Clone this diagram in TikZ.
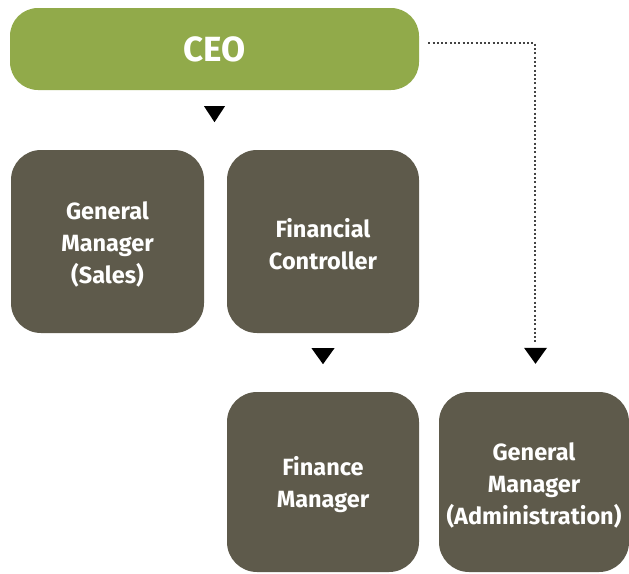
\documentclass[tikz,border=0pt]{standalone}
\usepackage{fontspec}
\setmainfont{Fira Sans}
\usetikzlibrary{calc}
\definecolor{ceogreen}{HTML}{91AA4A}
\definecolor{boxdark}{HTML}{5E5A4B}
\definecolor{dotgray}{HTML}{444444}
\tikzset{
  ceobox/.style={fill=ceogreen, draw=none, rounded corners=28pt, minimum width=409pt, minimum height=82pt, text=white, font=\bfseries\fontsize{35}{40}\selectfont, inner sep=0pt},
  mgrbox/.style={fill=boxdark, draw=none, rounded corners=30pt, inner sep=0pt},
  mgrtext/.style={text=white, align=center, font=\bfseries\fontsize{23.5}{32}\selectfont, inner sep=0pt},
  tip/.style={fill=black},
  dotline/.style={draw=dotgray, line width=2pt, dash pattern=on 2pt off 2.3pt},
}
\begin{document}
\begin{tikzpicture}[x=1pt,y=-1pt]
\useasboundingbox (0,0) rectangle (629,573);
\node[ceobox] (ceo) at (214.5,49) {CEO};
\node[mgrbox, minimum width=193pt, minimum height=183pt] (gms) at (107.5,241.5) {};
\node[mgrbox, minimum width=192pt, minimum height=183pt] (fc) at (323,241.5) {};
\node[mgrbox, minimum width=192pt, minimum height=180pt] (fm) at (323,482) {};
\node[mgrbox, minimum width=190pt, minimum height=180pt] (gma) at (534,482) {};
\node[mgrtext] (gmst) at ($(gms.center)+(0,3)$) {General\\Manager\\(Sales)};
\node[mgrtext] (fct) at ($(fc.center)+(0,3)$) {Financial\\Controller};
\node[mgrtext] (fmt) at ($(fm.center)+(0,3)$) {Finance\\Manager};
\node[mgrtext] (gmat) at ($(gma.center)+(0,3.5)$) {General\\Manager\\(Administration)};
% solid arrow tips
\coordinate (t1) at ($(ceo.south)+(0,16)$);
\fill[tip] ($(t1)+(-10.5,0)$) -- ($(t1)+(10.5,0)$) -- ($(t1)+(0,16)$) -- cycle;
\coordinate (t2) at ($(fc.south)+(0,15)$);
\fill[tip] ($(t2)+(-11.5,0)$) -- ($(t2)+(11.5,0)$) -- ($(t2)+(0,16)$) -- cycle;
% dotted connector
\coordinate (d0) at ($(ceo.east)+(9,-6)$);
\coordinate (d1) at (535,43);
\coordinate (d2) at (535,343);
\draw[dotline] (d0) -- (d1) -- (d2);
\coordinate (t3) at ($(gma.north)+(1.5,-44)$);
\fill[tip] ($(t3)+(-11.5,0)$) -- ($(t3)+(11.5,0)$) -- ($(t3)+(0,16)$) -- cycle;
\end{tikzpicture}
\end{document}
